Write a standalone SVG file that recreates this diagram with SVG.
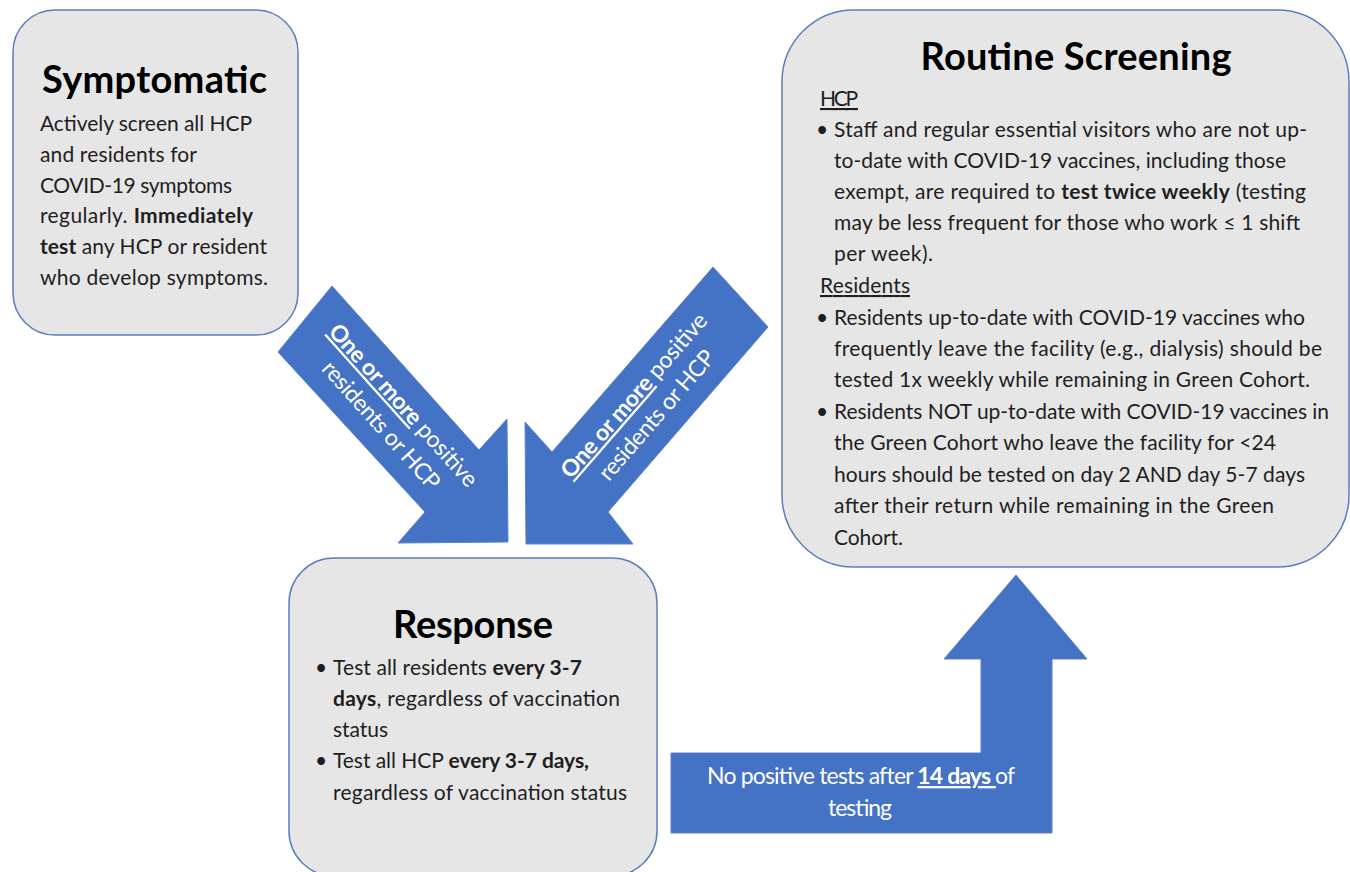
<svg xmlns="http://www.w3.org/2000/svg" width="1350" height="872" viewBox="0 0 1350 872">
<style>
.box{fill:#e7e6e6;stroke:#5b7ebd;stroke-width:1.5}
.title{font-family:Lato,"Liberation Sans",sans-serif;font-weight:700;font-size:38px;fill:#000}
.body{font-family:Lato,"Liberation Sans",sans-serif;font-size:21px;fill:#1e1e1e}
.b{font-weight:700}
.arrow{fill:#4472c4;stroke:#5a82ca;stroke-width:1}
.al{font-family:Lato,"Liberation Sans",sans-serif;font-size:23px;fill:#fff}
.u{text-decoration:underline}
</style>
<rect width="1350" height="872" fill="#fff"/>
<g id="connectors">
  <g id="arrow-left">
    <polygon class="arrow" points="332,286 479,450 507,419 508,542 398,543 425,512 278,352"/>
    <g transform="translate(391.7,415.9) rotate(48.1)">
      <text class="al" x="0" y="-8" text-anchor="middle" textLength="210"><tspan class="b u">One or more</tspan> positive</text>
      <text class="al" x="0" y="22" text-anchor="middle" textLength="164">residents or HCP</text>
    </g>
  </g>
  <g id="arrow-right">
    <polygon class="arrow" points="713,267 768,327 608,512 633,544 526,544 525,422 552,452"/>
    <g transform="translate(646,405.7) rotate(-49)">
      <text class="al" x="0" y="-8" text-anchor="middle" textLength="210"><tspan class="b u">One or more</tspan> positive</text>
      <text class="al" x="0" y="22" text-anchor="middle" textLength="164">residents or HCP</text>
    </g>
  </g>
  <g id="arrow-up">
    <polygon class="arrow" points="671,753 981,753 981,659 944,659 1016,575 1087,659 1052,659 1052,833 671,833"/>
    <text class="al" x="861" y="784" text-anchor="middle" textLength="308">No positive tests after <tspan class="b u">14 days </tspan>of</text>
    <text class="al" x="860" y="816" text-anchor="middle" textLength="64">testing</text>
  </g>
</g>
<g id="node-symptomatic">
  <rect class="box" x="13" y="10" width="285" height="325" rx="42"/>
  <text class="title" x="154.5" y="93" text-anchor="middle" textLength="225">Symptomatic</text>
  <text class="body" x="40" y="131" textLength="212">Actively screen all HCP</text>
  <text class="body" x="40" y="162" textLength="157">and residents for</text>
  <text class="body" x="40" y="193" textLength="192">COVID-19 symptoms</text>
  <text class="body" x="40" y="223" textLength="213">regularly. <tspan class="b">Immediately</tspan></text>
  <text class="body" x="40" y="254" textLength="227"><tspan class="b">test</tspan> any HCP or resident</text>
  <text class="body" x="40" y="285" textLength="228">who develop symptoms.</text>
</g>
<g id="node-response">
  <rect class="box" x="289" y="558" width="368" height="318" rx="45"/>
  <text class="title" x="473" y="638" text-anchor="middle" textLength="160">Response</text>
  <text class="body" x="321" y="675" text-anchor="middle">•</text>
  <text class="body" x="333" y="675" textLength="249">Test all residents <tspan class="b">every 3-7</tspan></text>
  <text class="body" x="333" y="706" textLength="287"><tspan class="b">days</tspan>, regardless of vaccination</text>
  <text class="body" x="333" y="737" textLength="55">status</text>
  <text class="body" x="321" y="768" text-anchor="middle">•</text>
  <text class="body" x="333" y="768" textLength="256">Test all HCP <tspan class="b">every 3-7 days,</tspan></text>
  <text class="body" x="333" y="800" textLength="294">regardless of vaccination status</text>
</g>
<g id="node-routine">
  <rect class="box" x="782" y="10" width="567" height="557" rx="72"/>
  <text class="title" x="1076" y="70" text-anchor="middle" textLength="311">Routine Screening</text>
  <text class="body u" x="820" y="106" textLength="38">HCP</text>
  <text class="body" x="822" y="137" text-anchor="middle">•</text>
  <text class="body" x="834" y="137" textLength="473">Staff and regular essential visitors who are not up-</text>
  <text class="body" x="834" y="168" textLength="452">to-date with COVID-19 vaccines, including those</text>
  <text class="body" x="834" y="199" textLength="472">exempt, are required to <tspan class="b">test twice weekly</tspan> (testing</text>
  <text class="body" x="834" y="230" textLength="466">may be less frequent for those who work ≤ 1 shift</text>
  <text class="body" x="834" y="261" textLength="99">per week).</text>
  <text class="body u" x="820" y="293" textLength="90">Residents</text>
  <text class="body" x="822" y="325" text-anchor="middle">•</text>
  <text class="body" x="834" y="325" textLength="471">Residents up-to-date with COVID-19 vaccines who</text>
  <text class="body" x="834" y="356" textLength="488">frequently leave the facility (e.g., dialysis) should be</text>
  <text class="body" x="834" y="387" textLength="476">tested 1x weekly while remaining in Green Cohort.</text>
  <text class="body" x="822" y="419" text-anchor="middle">•</text>
  <text class="body" x="834" y="419" textLength="495">Residents NOT up-to-date with COVID-19 vaccines in</text>
  <text class="body" x="834" y="450" textLength="442">the Green Cohort who leave the facility for &lt;24</text>
  <text class="body" x="834" y="482" textLength="471">hours should be tested on day 2 AND day 5-7 days</text>
  <text class="body" x="834" y="513" textLength="440">after their return while remaining in the Green</text>
  <text class="body" x="834" y="545" textLength="69">Cohort.</text>
</g>
</svg>
